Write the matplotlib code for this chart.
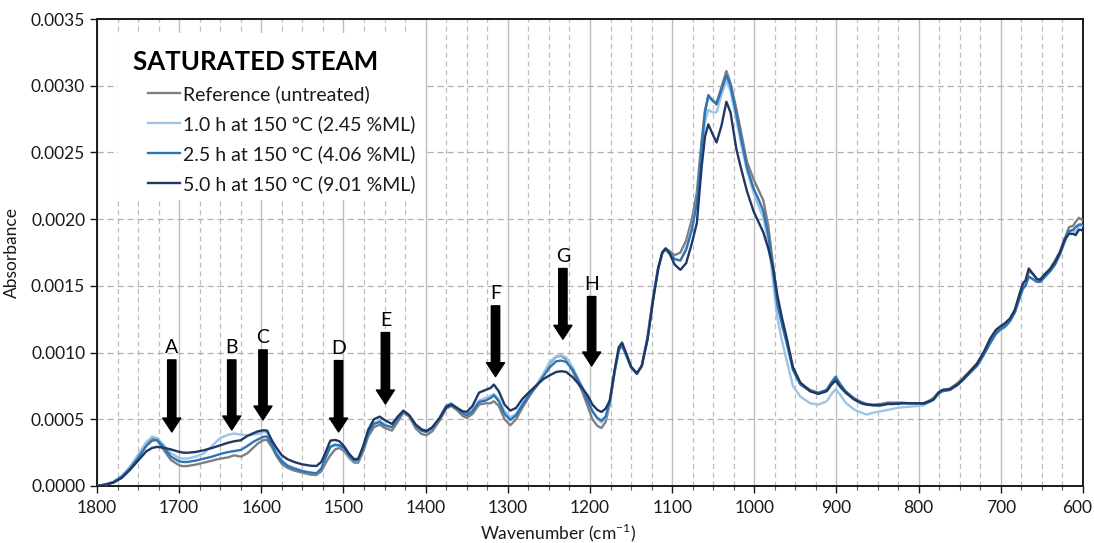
import matplotlib
matplotlib.use("Agg")
import matplotlib.pyplot as plt
from matplotlib.patches import Rectangle
from matplotlib.ticker import MultipleLocator, FormatStrFormatter
import matplotlib.transforms as mtransforms
import numpy as np

plt.rcParams['font.family'] = ['Lato', 'DejaVu Sans']

# Wavenumbers (cm-1)
wavenumber = [1800, 1790, 1780, 1770, 1760, 1750, 1740, 1733, 1727, 1720, 1710, 1700, 1695, 1690,
              1680, 1670, 1660, 1650, 1640, 1633, 1625, 1617, 1610, 1604, 1597, 1593, 1587, 1582,
              1575, 1568, 1560, 1550, 1540, 1533, 1527, 1522, 1516, 1510, 1505, 1499, 1493, 1487,
              1482, 1476, 1470, 1463, 1456, 1450, 1441, 1434, 1427, 1420, 1412, 1405, 1399, 1392,
              1383, 1375, 1369, 1362, 1355, 1350, 1343, 1335, 1327, 1321, 1317, 1311, 1304, 1297,
              1290, 1282, 1273, 1265, 1257, 1249, 1241, 1235, 1229, 1221, 1214, 1209, 1203, 1197,
              1191, 1186, 1181, 1176, 1170, 1165, 1161, 1156, 1150, 1143, 1137, 1130, 1123, 1117,
              1112, 1108, 1103, 1097, 1090, 1083, 1076, 1070, 1064, 1060, 1056, 1051, 1046, 1040,
              1034, 1029, 1022, 1017, 1009, 1001, 995, 989, 983, 977, 972, 966, 961, 953, 944, 932,
              922, 912, 906, 901, 895, 889, 879, 870, 863, 855, 846, 838, 830, 820, 810, 800, 794,
              787, 782, 776, 771, 762, 753, 746, 738, 729, 721, 713, 706, 701, 695, 689, 683, 677,
              673, 670, 666, 661, 656, 652, 646, 640, 634, 628, 622, 617, 612, 609, 605, 602, 600]

# Absorbance values in units of 1e-4
reference_untreated = [0.0, 0.1, 0.3, 0.7, 1.4, 2.3, 3.2, 3.6, 3.45, 2.8, 1.95, 1.55, 1.48, 1.5,
                       1.6, 1.75, 1.9, 2.05, 2.15, 2.3, 2.2, 2.45, 2.85, 3.2, 3.45, 3.45, 2.9, 2.3,
                       1.65, 1.35, 1.15, 1.0, 0.85, 0.82, 1.1, 1.7, 2.3, 2.75, 2.85, 2.6, 2.1, 1.75,
                       1.75, 2.6, 3.7, 4.4, 4.6, 4.35, 4.15, 4.8, 5.5, 5.2, 4.3, 3.9, 3.8, 4.1,
                       4.9, 5.8, 6.0, 5.7, 5.25, 5.1, 5.4, 6.1, 6.2, 6.2, 6.35, 6.0, 5.0, 4.55,
                       5.0, 5.9, 6.8, 7.5, 8.3, 9.2, 9.7, 9.75, 9.5, 8.6, 7.7, 7.0, 6.0, 5.0,
                       4.5, 4.35, 4.8, 6.1, 8.6, 10.2, 10.6, 9.9, 8.9, 8.4, 9.0, 11.2, 14.3, 16.4,
                       17.5, 17.8, 17.6, 17.3, 17.5, 18.4, 20.0, 22.0, 26.0, 28.2, 29.2, 28.9, 28.7, 29.9,
                       31.1, 30.2, 28.3, 26.8, 24.3, 23.0, 22.2, 21.4, 19.5, 16.5, 14.0, 12.3, 11.0, 8.8, 7.7, 7.2,
                       7.0, 7.2, 7.7, 8.0, 7.5, 7.1, 6.6, 6.3, 6.15, 6.1, 6.15, 6.25, 6.25, 6.25, 6.2, 6.2, 6.2,
                       6.4, 6.6, 7.0, 7.2, 7.3, 7.7, 8.1, 8.6, 9.2, 10.0, 10.9, 11.5, 11.85, 12.1, 12.4, 13.1, 14.3,
                       15.1, 15.0, 16.1, 15.9, 15.5, 15.5, 15.9, 16.3, 16.9, 17.6, 18.6, 19.4, 19.5, 19.8, 20.1, 20.0, 19.9]

h1_0 = [0.0, 0.1, 0.3, 0.7, 1.4, 2.3, 3.3, 3.7, 3.6, 3.15, 2.45, 2.1, 2.06, 2.06,
        2.2, 2.45, 3.0, 3.6, 3.85, 3.93, 3.85, 3.8, 3.85, 3.9, 4.05, 4.0, 3.3, 2.6,
        1.9, 1.55, 1.35, 1.15, 1.0, 0.95, 1.3, 2.1, 2.9, 3.05, 3.0, 2.75, 2.2, 1.85,
        1.9, 2.8, 3.9, 4.7, 4.9, 4.6, 4.4, 5.0, 5.6, 5.3, 4.5, 4.15, 4.05, 4.35,
        5.1, 6.0, 6.2, 5.9, 5.45, 5.3, 5.7, 6.4, 6.6, 6.75, 6.9, 6.5, 5.6, 5.15,
        5.4, 6.2, 7.0, 7.6, 8.4, 9.3, 9.75, 9.8, 9.65, 8.9, 8.0, 7.4, 6.5, 5.6,
        5.0, 4.75, 5.1, 6.2, 8.5, 10.1, 10.5, 9.8, 8.9, 8.4, 9.0, 11.1, 14.2, 16.3,
        17.4, 17.7, 17.4, 17.0, 16.9, 17.8, 19.4, 21.3, 25.3, 27.3, 28.2, 28.0, 28.0, 29.3,
        30.4, 29.6, 27.5, 25.9, 23.6, 22.0, 21.0, 20.1, 18.3, 15.2, 12.6, 10.8, 9.5, 7.5, 6.7, 6.2,
        6.1, 6.35, 6.9, 7.25, 6.8, 6.25, 5.75, 5.5, 5.35, 5.5, 5.6, 5.7, 5.8, 5.9, 5.95, 6.0, 6.05,
        6.3, 6.5, 6.95, 7.15, 7.2, 7.55, 7.95, 8.45, 9.0, 9.8, 10.7, 11.4, 11.7, 11.9, 12.3, 13.0, 14.1,
        14.8, 15.0, 15.7, 15.5, 15.3, 15.3, 15.7, 16.1, 16.6, 17.3, 18.3, 19.0, 19.2, 19.0, 19.5, 19.5, 19.5]

h2_5 = [0.0, 0.1, 0.3, 0.7, 1.3, 2.1, 3.0, 3.4, 3.45, 3.0, 2.2, 1.85, 1.8, 1.8,
        1.9, 2.05, 2.2, 2.4, 2.55, 2.62, 2.7, 3.0, 3.3, 3.5, 3.7, 3.7, 3.1, 2.4,
        1.85, 1.5, 1.3, 1.1, 1.0, 0.95, 1.3, 2.1, 2.95, 3.1, 3.05, 2.8, 2.25, 1.9,
        1.95, 2.8, 3.9, 4.65, 4.8, 4.55, 4.4, 5.0, 5.6, 5.3, 4.5, 4.15, 4.05, 4.35,
        5.1, 6.0, 6.15, 5.85, 5.45, 5.3, 5.6, 6.3, 6.4, 6.6, 6.8, 6.35, 5.4, 4.95,
        5.3, 6.1, 6.9, 7.5, 8.2, 8.9, 9.35, 9.4, 9.3, 8.7, 7.9, 7.3, 6.4, 5.6,
        5.1, 4.9, 5.2, 6.3, 8.6, 10.2, 10.55, 9.8, 8.9, 8.4, 9.0, 11.0, 14.1, 16.3,
        17.5, 17.8, 17.5, 17.0, 16.9, 17.7, 19.2, 21.2, 25.5, 28.0, 29.3, 28.9, 28.6, 29.7,
        30.8, 30.0, 27.9, 26.3, 23.9, 22.3, 21.5, 20.6, 18.8, 16.0, 13.6, 12.0, 10.8, 8.7, 7.6, 7.1,
        6.95, 7.2, 7.8, 8.2, 7.6, 7.1, 6.55, 6.25, 6.1, 6.05, 6.05, 6.15, 6.15, 6.2, 6.2, 6.2, 6.15,
        6.3, 6.45, 6.9, 7.1, 7.2, 7.55, 7.95, 8.45, 9.0, 9.8, 10.7, 11.4, 11.7, 11.95, 12.35, 13.0, 14.1,
        14.8, 15.0, 15.7, 15.5, 15.3, 15.3, 15.7, 16.1, 16.6, 17.4, 18.4, 19.1, 19.2, 19.4, 19.6, 19.6, 19.6]

h5_0 = [0.0, 0.1, 0.25, 0.6, 1.2, 1.9, 2.6, 2.85, 2.93, 2.88, 2.74, 2.56, 2.5, 2.49,
        2.55, 2.68, 2.85, 3.05, 3.25, 3.35, 3.43, 3.75, 3.95, 4.1, 4.18, 4.15, 3.4, 2.9,
        2.3, 2.0, 1.8, 1.62, 1.52, 1.5, 1.8, 2.5, 3.4, 3.45, 3.35, 2.95, 2.4, 2.0,
        2.05, 3.0, 4.2, 5.0, 5.2, 4.95, 4.65, 5.2, 5.65, 5.3, 4.6, 4.25, 4.13, 4.4,
        5.1, 5.9, 6.1, 5.85, 5.6, 5.55, 6.0, 7.0, 7.2, 7.35, 7.6, 7.1, 6.1, 5.65,
        5.85, 6.55, 7.1, 7.55, 8.0, 8.3, 8.55, 8.6, 8.55, 8.15, 7.65, 7.3, 6.8, 6.1,
        5.7, 5.55, 5.8, 6.4, 8.7, 10.4, 10.75, 9.95, 8.95, 8.45, 9.0, 11.0, 14.0, 16.3,
        17.5, 17.8, 17.4, 16.6, 16.2, 16.7, 18.2, 19.7, 24.0, 26.2, 27.1, 26.4, 25.75, 27.0,
        28.8, 28.0, 25.3, 24.0, 22.1, 20.6, 19.8, 19.0, 17.8, 16.3, 14.3, 12.5, 11.2, 8.9, 7.75, 7.1,
        6.9, 7.1, 7.6, 7.9, 7.4, 7.0, 6.5, 6.2, 6.1, 6.05, 6.05, 6.15, 6.15, 6.2, 6.2, 6.2, 6.2,
        6.35, 6.5, 7.0, 7.2, 7.25, 7.6, 8.0, 8.55, 9.15, 10.0, 11.05, 11.7, 11.95, 12.2, 12.55, 13.2, 14.45,
        15.2, 15.4, 16.3, 15.9, 15.5, 15.45, 15.9, 16.25, 16.8, 17.5, 18.5, 18.9, 18.9, 18.8, 19.2, 19.2, 19.1]

series_labels = ["Reference (untreated)", "1.0 h at 150 °C (2.45 %ML)",
                 "2.5 h at 150 °C (4.06 %ML)", "5.0 h at 150 °C (9.01 %ML)"]
series_colors = ["#7f7f7f", "#9dc3e6", "#2e75b6", "#1f3864"]

# Band markers
band_letters = ["A", "B", "C", "D", "E", "F", "G", "H"]
band_positions = [1709, 1636, 1598, 1506, 1449, 1315, 1233, 1198]
arrow_tops = [0.000945, 0.000945, 0.00102, 0.00094, 0.00115, 0.00135, 0.00163, 0.00142]
arrow_tips = [0.000405, 0.00042, 0.000495, 0.000405, 0.000615, 0.00082, 0.00110, 0.00090]

SCALE = 1e-4

fig = plt.figure(figsize=(10.94, 5.43), dpi=100)
ax = fig.add_axes([97/1094, 57/543, 986/1094, 467/543])

wn = np.array(wavenumber)
for vals, lab, col in zip([reference_untreated, h1_0, h2_5, h5_0], series_labels, series_colors):
    ax.plot(wn, np.array(vals) * SCALE, color=col, lw=1.7, label=lab, zorder=3,
            solid_joinstyle='round')

ax.set_xlim(1800, 600)
ax.set_ylim(0, 0.0035)
ax.xaxis.set_major_locator(MultipleLocator(100))
ax.xaxis.set_minor_locator(MultipleLocator(25))
ax.yaxis.set_major_locator(MultipleLocator(0.0005))
ax.yaxis.set_major_formatter(FormatStrFormatter('%.4f'))

ax.grid(True, which='major', axis='x', color='#bdbdbd', lw=1.0, ls='-', zorder=0)
ax.grid(True, which='minor', axis='x', color='#bdbdbd', lw=0.9, ls=(0, (4, 3)), zorder=0)
ax.grid(True, which='major', axis='y', color='#b0b0b0', lw=0.9, ls=(0, (5, 3)), zorder=0)
ax.set_axisbelow(True)

for s in ax.spines.values():
    s.set_color('#1a1a1a')
    s.set_linewidth(1.4)

ax.tick_params(axis='both', which='major', direction='out', length=5, width=1.0,
               labelsize=12.5, color='#1a1a1a', labelcolor='#1a1a1a')
ax.tick_params(axis='x', which='major', pad=5)
ax.tick_params(axis='x', which='minor', direction='out', length=3, width=0.8, color='#555555')
ax.tick_params(axis='y', which='minor', left=False)

# keep the last x tick label inside the figure
fig.canvas.draw()
for lbl in ax.get_xticklabels():
    if lbl.get_text() == '600':
        lbl.set_transform(lbl.get_transform() + mtransforms.ScaledTranslation(-6/100, 0, fig.dpi_scale_trans))

ax.set_xlabel("Wavenumber (cm$^{\\mathregular{-1}}$)", fontsize=12.5, color='#1a1a1a')
ax.set_ylabel("Absorbance", fontsize=12.5, color='#1a1a1a')
ax.xaxis.set_label_coords(0.4675, -0.076)
ax.yaxis.set_label_coords(-0.078, 0.5)

# Arrows and letters
for letter, x, top, tip in zip(band_letters, band_positions, arrow_tops, arrow_tips):
    ax.annotate('', xy=(x, tip), xytext=(x, top),
                arrowprops=dict(arrowstyle='simple,head_length=1.0,head_width=1.3,tail_width=0.6',
                                color='black', shrinkA=0, shrinkB=0, mutation_scale=10),
                zorder=5)
    ax.text(x, top + 0.00003, letter, ha='center', va='bottom', fontsize=14, color='black', zorder=5)

# Legend box
box = Rectangle((118/1094, (543-200)/543), (425-118)/1094, (200-33)/543,
                transform=fig.transFigure, facecolor='white', edgecolor='none', zorder=4)
ax.add_patch(box)
box.set_clip_on(False)

fig.text(133/1094, 1 - 62/543, "SATURATED STEAM", fontsize=18.6, fontweight='bold',
         ha='left', va='center', color='black', zorder=6)

leg = ax.legend(loc='upper left', bbox_to_anchor=(148/1094, 1 - 85/543),
                bbox_transform=fig.transFigure, frameon=False, fontsize=14,
                handlelength=1.65, handletextpad=0.15, labelspacing=0.62,
                borderpad=0, borderaxespad=0)
leg.set_zorder(6)
for t in leg.get_texts():
    t.set_color('#1a1a1a')

fig.savefig("out.png", dpi=100)
